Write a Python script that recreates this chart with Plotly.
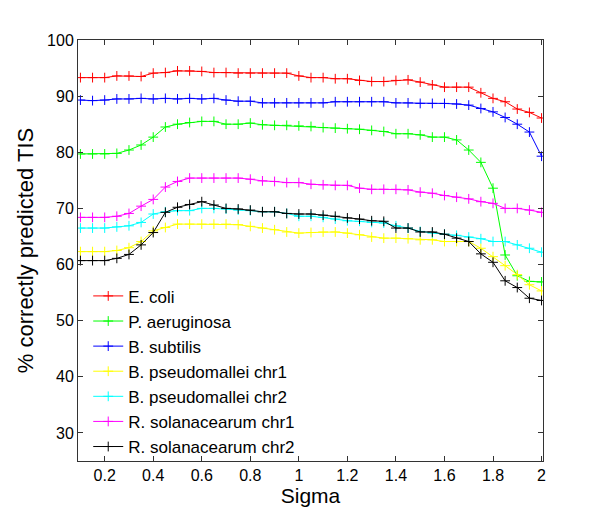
import plotly.graph_objects as go

sigma = [round(0.1 + 0.05 * i, 2) for i in range(39)]

e_coli = [93.3, 93.3, 93.3, 93.6, 93.6, 93.5, 94.1, 94.2, 94.5, 94.5,
          94.4, 94.2, 94.2, 94.1, 94.1, 94.1, 94.1, 94.1, 93.6, 93.3,
          93.3, 93.1, 93.1, 92.8, 92.6, 92.6, 92.8, 92.9, 92.5, 92.0,
          91.6, 91.6, 91.6, 90.6, 89.6, 89.0, 87.7, 87.1, 86.1]
p_aeruginosa = [79.7, 79.7, 79.7, 79.8, 80.4, 81.3, 82.7, 84.5, 85.0, 85.3,
                85.5, 85.5, 85.0, 85.0, 85.2, 84.9, 84.8, 84.8, 84.7, 84.6,
                84.4, 84.3, 84.2, 84.1, 83.9, 83.7, 83.3, 83.3, 83.1, 82.7,
                82.7, 82.2, 80.4, 78.2, 73.6, 61.7, 58.0, 57.0, 56.9]
b_subtilis = [89.3, 89.2, 89.3, 89.5, 89.5, 89.6, 89.5, 89.6, 89.5, 89.6,
              89.5, 89.6, 89.3, 89.1, 89.1, 88.8, 88.8, 88.8, 88.8, 88.8,
              88.8, 89.0, 89.0, 89.0, 89.0, 89.0, 88.8, 88.8, 88.7, 88.7,
              88.7, 88.6, 88.4, 87.8, 87.2, 86.2, 85.0, 83.6, 79.3]
b_pseudo_chr1 = [62.3, 62.3, 62.3, 62.5, 63.0, 64.1, 66.0, 66.6, 67.2, 67.2,
                 67.2, 67.2, 67.2, 67.1, 66.8, 66.5, 66.2, 65.8, 65.6, 65.7,
                 65.8, 65.8, 65.6, 65.3, 64.9, 64.7, 64.7, 64.6, 64.4, 64.4,
                 64.1, 64.1, 64.1, 62.9, 61.4, 59.8, 58.2, 56.4, 55.3]
b_pseudo_chr2 = [66.5, 66.5, 66.5, 66.7, 66.9, 67.5, 69.0, 69.4, 69.6, 69.6,
                 70.0, 70.0, 69.9, 69.7, 69.6, 69.4, 69.4, 69.1, 68.6, 68.6,
                 68.4, 68.1, 67.8, 67.7, 67.5, 67.4, 66.9, 66.5, 65.9, 65.6,
                 65.4, 65.2, 64.9, 64.6, 64.1, 64.1, 63.5, 62.9, 62.2]
r_sol_chr1 = [68.4, 68.4, 68.4, 68.6, 69.1, 70.4, 71.6, 73.8, 74.8, 75.4,
              75.4, 75.4, 75.4, 75.4, 75.2, 74.9, 74.8, 74.6, 74.6, 74.3,
              74.2, 74.1, 74.1, 73.6, 73.4, 73.4, 73.4, 73.3, 72.9, 72.7,
              72.3, 72.0, 71.7, 71.2, 70.9, 70.0, 70.0, 69.7, 69.3]
r_sol_chr2 = [60.7, 60.7, 60.7, 61.1, 61.8, 63.5, 65.7, 69.3, 70.2, 70.7,
              71.2, 70.6, 70.0, 69.9, 69.7, 69.4, 69.4, 69.1, 69.0, 69.0,
              68.8, 68.6, 68.3, 68.1, 67.8, 67.7, 66.5, 66.5, 65.8, 65.8,
              65.4, 64.7, 64.1, 61.9, 60.4, 57.1, 55.9, 54.0, 53.6]

series_names = ["E. coli", "P. aeruginosa", "B. subtilis", "B. pseudomallei chr1",
                "B. pseudomallei chr2", "R. solanacearum chr1", "R. solanacearum chr2"]
series_values = [e_coli, p_aeruginosa, b_subtilis, b_pseudo_chr1,
                 b_pseudo_chr2, r_sol_chr1, r_sol_chr2]
series_colors = ["#ff0000", "#00ff00", "#0000ff", "#ffff00",
                 "#00ffff", "#ff00ff", "#000000"]

x_ticks = [0.2, 0.4, 0.6, 0.8, 1.0, 1.2, 1.4, 1.6, 1.8, 2.0]
x_tick_labels = ["0.2", "0.4", "0.6", "0.8", "1", "1.2", "1.4", "1.6", "1.8", "2"]
y_ticks = [30, 40, 50, 60, 70, 80, 90, 100]

FONT = "Liberation Sans, Arial, Helvetica, sans-serif"

fig = go.Figure()
for name, vals, col in zip(series_names, series_values, series_colors):
    fig.add_trace(go.Scatter(
        x=sigma, y=vals, name=name, mode="lines+markers",
        legendgroup=name,
        line=dict(color=col, width=1),
        marker=dict(symbol="cross-thin", size=7, line=dict(color=col, width=1)),
    ))

axis_common = dict(
    showline=True, linecolor="#333333", linewidth=1, mirror="ticks",
    ticks="inside", ticklen=5, tickcolor="#333333", tickwidth=1,
    showgrid=False, zeroline=False,
    tickfont=dict(family=FONT, size=16, color="black"),
)

fig.update_layout(
    width=600, height=526,
    margin=dict(l=70, r=65, t=32, b=73),
    paper_bgcolor="white", plot_bgcolor="white",
    font=dict(family=FONT, color="black"),
    showlegend=True,
    legend=dict(
        x=0.022, y=-0.008, xanchor="left", yanchor="bottom",
        bgcolor="rgba(0,0,0,0)", borderwidth=0,
        font=dict(family=FONT, size=17, color="black"),
        tracegroupgap=0, itemwidth=30,
    ),
    xaxis=dict(range=[0.09, 2.006], tickvals=x_ticks, ticktext=x_tick_labels,
               title=dict(text="Sigma", font=dict(family=FONT, size=21), standoff=3),
               **axis_common),
    yaxis=dict(range=[25, 100], tickvals=y_ticks,
               title=dict(text="% correctly predicted TIS", font=dict(family=FONT, size=22), standoff=7),
               **axis_common),
)

fig.write_html("out.html")
